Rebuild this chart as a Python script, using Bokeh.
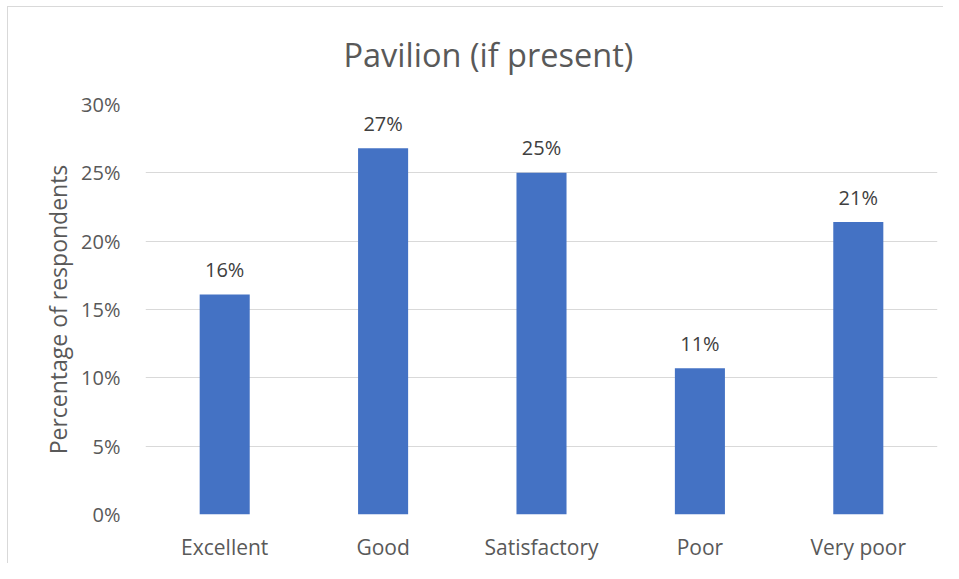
from bokeh.plotting import figure
from bokeh.models import ColumnDataSource, FactorRange, Range1d, FixedTicker, NumeralTickFormatter, Title
from bokeh.core.properties import value
from bokeh.embed import file_html
from bokeh.resources import INLINE

categories = ["Excellent", "Good", "Satisfactory", "Poor", "Very poor"]
shares = [0.161, 0.268, 0.250, 0.107, 0.214]
labels = [f"{round(v * 100)}%" for v in shares]
y_ticks = [0.0, 0.05, 0.10, 0.15, 0.20, 0.25, 0.30]
title_text = "Pavilion (if present)"

FONT = "Open Sans"
GREY = "#595959"

source = ColumnDataSource(data=dict(cat=categories, val=shares, lab=labels))

p = figure(
    x_range=FactorRange(*categories, range_padding=0),
    y_range=Range1d(0, 0.30),
    width=943, height=563,
    output_backend="svg", toolbar_location=None,
    min_border_left=145, min_border_right=6,
    min_border_top=104, min_border_bottom=44,
)
p.title = Title(text=title_text, align="left", offset=198,
                text_font=FONT, text_font_size="32.5px", text_font_style="normal",
                text_line_height=0.9, text_color=GREY, standoff=56)

p.vbar(x="cat", top="val", width=0.316, source=source,
       fill_color="#4472C4", line_color=None)

p.text(x="cat", y="val", text="lab", source=source,
       text_align="center", text_baseline="alphabetic", y_offset=-25,
       text_font=value(FONT), text_font_size="20px", text_color="#404040")

p.outline_line_color = None
p.border_fill_color = None
p.background_fill_color = None
p.xgrid.grid_line_color = None
p.ygrid.grid_line_color = "#d9d9d9"
p.ygrid.grid_line_width = 1

p.yaxis.ticker = FixedTicker(ticks=y_ticks)
p.yaxis.formatter = NumeralTickFormatter(format="0%")
p.yaxis.axis_label = "Percentage of respondents"
p.yaxis.axis_label_text_font = FONT
p.yaxis.axis_label_text_font_size = "23px"
p.yaxis.axis_label_text_font_style = "normal"
p.yaxis.axis_label_text_color = GREY
p.yaxis.axis_label_standoff = 4
p.yaxis.major_label_standoff = 19

for ax in (p.xaxis, p.yaxis):
    ax.axis_line_color = None
    ax.major_tick_line_color = None
    ax.minor_tick_line_color = None
    ax.major_label_text_font = FONT
    ax.major_label_text_font_size = "20px"
    ax.major_label_text_color = GREY

p.xaxis.major_label_text_font_size = "21px"
p.xaxis.major_label_text_line_height = 1.0
p.xaxis.major_label_standoff = 12

p.styles = {
    "background-color": "white",
    "background-image": "linear-gradient(#d9d9d9, #d9d9d9), linear-gradient(#d9d9d9, #d9d9d9)",
    "background-position": "7px 6px, 7px 6px",
    "background-size": "1px 100%, 100% 1px",
    "background-repeat": "no-repeat, no-repeat",
}

open("out.html", "w").write(file_html(p, INLINE))
